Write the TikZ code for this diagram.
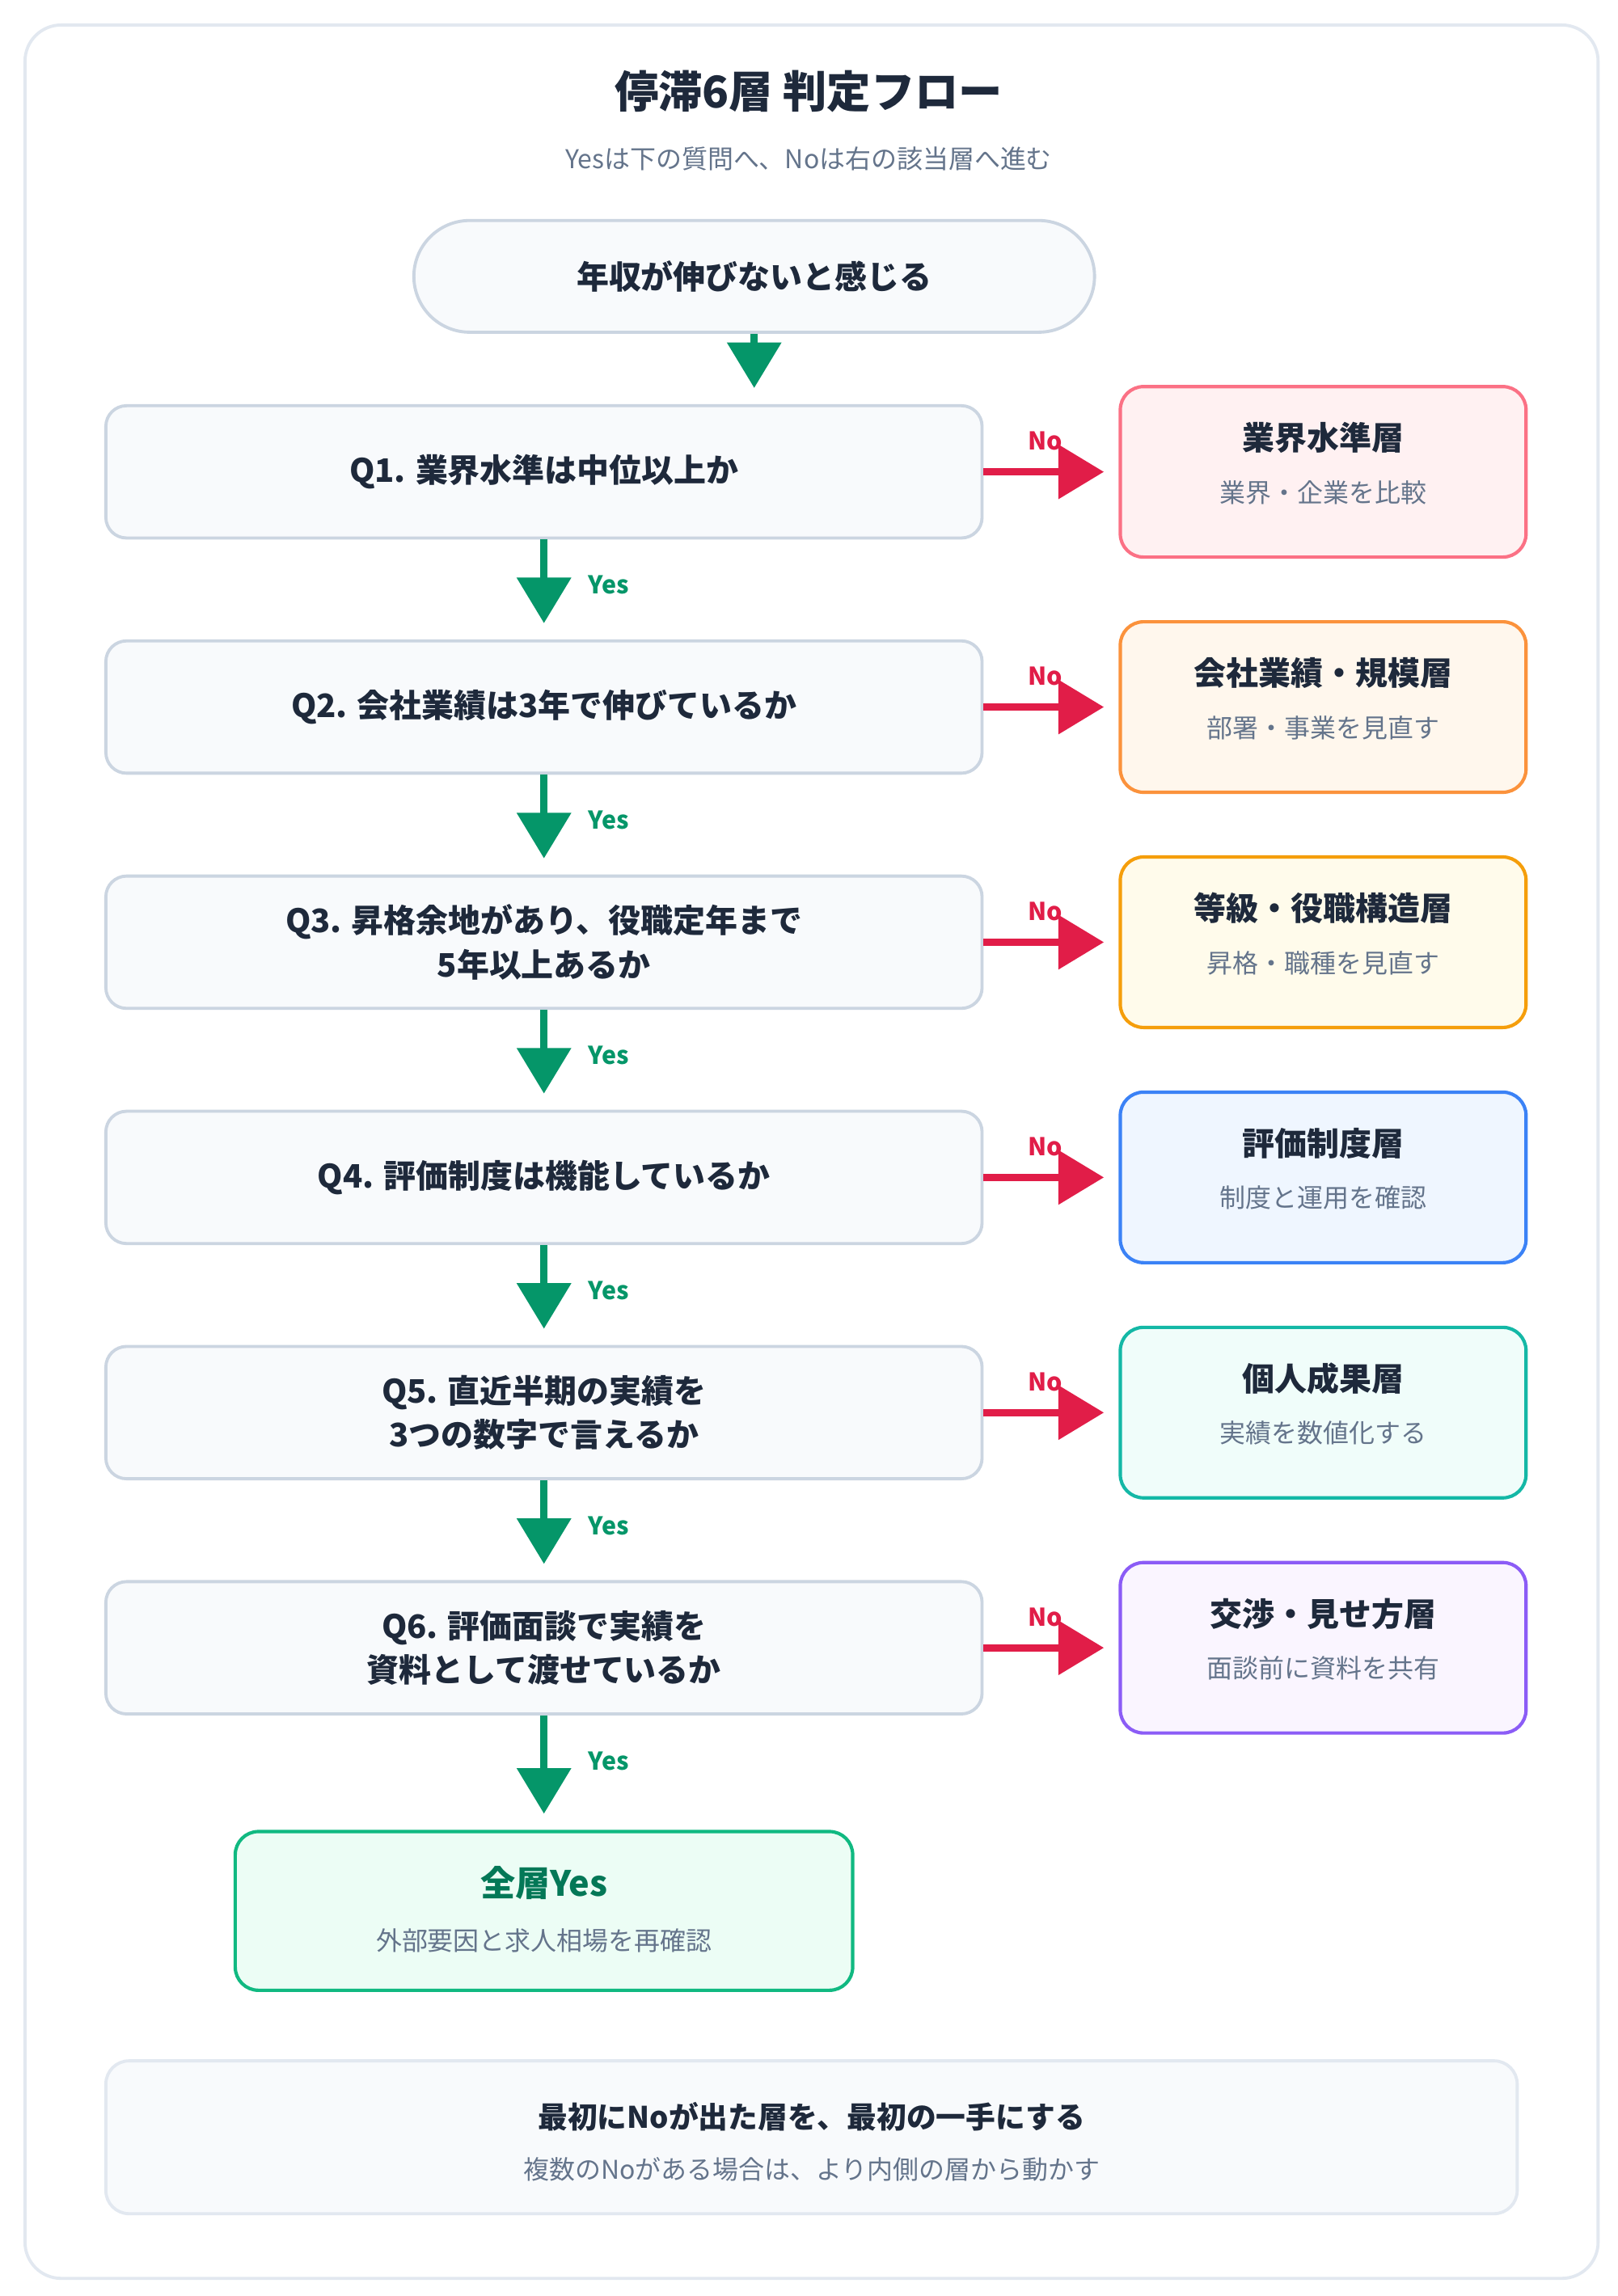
\documentclass[tikz,border=0pt]{standalone}
\usepackage{fontspec}
\setmainfont{Noto Sans CJK JP}
\usetikzlibrary{arrows.meta}
\definecolor{ink}{HTML}{1E293B}
\definecolor{muted}{HTML}{64748B}
\definecolor{yesgreen}{HTML}{059669}
\definecolor{nored}{HTML}{E11D48}
\definecolor{boxfill}{HTML}{F8FAFC}
\definecolor{boxline}{HTML}{CBD5E1}
\definecolor{noteline}{HTML}{E2E8F0}
\definecolor{line1}{HTML}{FB7185}\definecolor{fill1}{HTML}{FFF1F2}
\definecolor{line2}{HTML}{FB923C}\definecolor{fill2}{HTML}{FFF7ED}
\definecolor{line3}{HTML}{F59E0B}\definecolor{fill3}{HTML}{FFFBEB}
\definecolor{line4}{HTML}{3B82F6}\definecolor{fill4}{HTML}{EFF6FF}
\definecolor{line5}{HTML}{14B8A6}\definecolor{fill5}{HTML}{F0FDFA}
\definecolor{line6}{HTML}{8B5CF6}\definecolor{fill6}{HTML}{FAF5FF}
\definecolor{goalline}{HTML}{10B981}\definecolor{goalfill}{HTML}{ECFDF5}
\definecolor{goaltext}{HTML}{047857}
\tikzset{
  qbox/.style={draw=boxline, fill=boxfill, line width=1.2pt, rounded corners=8pt,
    minimum width=596*0.02cm, minimum height=90*0.02cm, align=center,
    font=\fontsize{12.5}{17}\selectfont\bfseries, text=ink},
  rbox/.style={draw=line#1, fill=fill#1, line width=1.3pt, rounded corners=9pt,
    minimum width=276*0.02cm, minimum height=116*0.02cm},
  rtitle/.style={font=\fontsize{12.5}{15}\selectfont\bfseries, text=ink},
  rsub/.style={font=\fontsize{10}{12}\selectfont, text=muted},
  yes/.style={draw=yesgreen, line width=2.8pt, -{Triangle[length=0.62cm,width=0.72cm]}},
  no/.style={draw=nored, line width=2.8pt, -{Triangle[length=0.62cm,width=0.72cm]}},
  yeslbl/.style={font=\fontsize{9.5}{11}\selectfont\bfseries, text=yesgreen},
  nolbl/.style={font=\fontsize{9.5}{11}\selectfont\bfseries, text=nored}
}
\begin{document}
\begin{tikzpicture}[x=0.02cm, y=-0.02cm]
  \useasboundingbox (0,0) rectangle (1100,1562);
  \draw[draw=noteline, fill=white, line width=1.2pt, rounded corners=14pt]
    (17,17) rectangle (1087,1550);
  % title
  \node[font=\fontsize{17}{20}\selectfont\bfseries, text=ink] (title) at (550,62) {停滞6層 判定フロー};
  \node[font=\fontsize{10}{12}\selectfont, text=muted] (subtitle) at (550,108) {Yesは下の質問へ、Noは右の該当層へ進む};
  % start
  \node[draw=boxline, fill=boxfill, line width=1.2pt, rounded corners=38*0.02cm,
    minimum width=463*0.02cm, minimum height=76*0.02cm,
    font=\fontsize{12.5}{15}\selectfont\bfseries, text=ink] (start) at (513,188) {年収が伸びないと感じる};
  % questions
  \node[qbox] (q1) at (370,321) {Q1. 業界水準は中位以上か};
  \node[qbox] (q2) at (370,481) {Q2. 会社業績は3年で伸びているか};
  \node[qbox] (q3) at (370,641) {Q3. 昇格余地があり、役職定年まで\\5年以上あるか};
  \node[qbox] (q4) at (370,801) {Q4. 評価制度は機能しているか};
  \node[qbox] (q5) at (370,961) {Q5. 直近半期の実績を\\3つの数字で言えるか};
  \node[qbox] (q6) at (370,1121) {Q6. 評価面談で実績を\\資料として渡せているか};
  % layers
  \foreach \i/\t/\s in {1/業界水準層/業界・企業を比較, 2/会社業績・規模層/部署・事業を見直す,
      3/等級・役職構造層/昇格・職種を見直す, 4/評価制度層/制度と運用を確認,
      5/個人成果層/実績を数値化する, 6/交渉・見せ方層/面談前に資料を共有} {
    \node[rbox=\i] (r\i) at (900,161+160*\i) {};
    \node[rtitle] (rt\i) at ([yshift=0.46cm]r\i.center) {\t};
    \node[rsub] (rs\i) at ([yshift=-0.28cm]r\i.center) {\s};
  }
  % goal
  \node[draw=goalline, fill=goalfill, line width=1.3pt, rounded corners=9pt,
    minimum width=420*0.02cm, minimum height=108*0.02cm] (goal) at (370,1300) {};
  \node[font=\fontsize{13.5}{16}\selectfont\bfseries, text=goaltext] (goalt) at (370,1281) {全層Yes};
  \node[rsub] (goals) at (370,1320) {外部要因と求人相場を再確認};
  % note
  \node[draw=noteline, fill=boxfill, line width=1.2pt, rounded corners=9pt,
    minimum width=960*0.02cm, minimum height=104*0.02cm] (note) at (552,1454) {};
  \node[font=\fontsize{11.5}{14}\selectfont\bfseries, text=ink] (notet) at (552,1440) {最初にNoが出た層を、最初の一手にする};
  \node[rsub] (notes) at (552,1476) {複数のNoがある場合は、より内側の層から動かす};
  % connectors
  \draw[yes, shorten >=0.22cm] (start.south) -- (start.south |- q1.north);
  \foreach \a/\b in {q1/q2, q2/q3, q3/q4, q4/q5, q5/q6, q6/goal} {
    \draw[yes, shorten >=0.22cm] (\a.south) -- (\b.north);
    \node[yeslbl] at ([xshift=0.88cm, yshift=-0.62cm]\a.south) {Yes};
  }
  \foreach \i in {1,...,6} {
    \draw[no, shorten >=0.2cm] (q\i.east) -- (r\i.west);
    \node[nolbl] at ([xshift=0.84cm, yshift=0.42cm]q\i.east) {No};
  }
\end{tikzpicture}
\end{document}
